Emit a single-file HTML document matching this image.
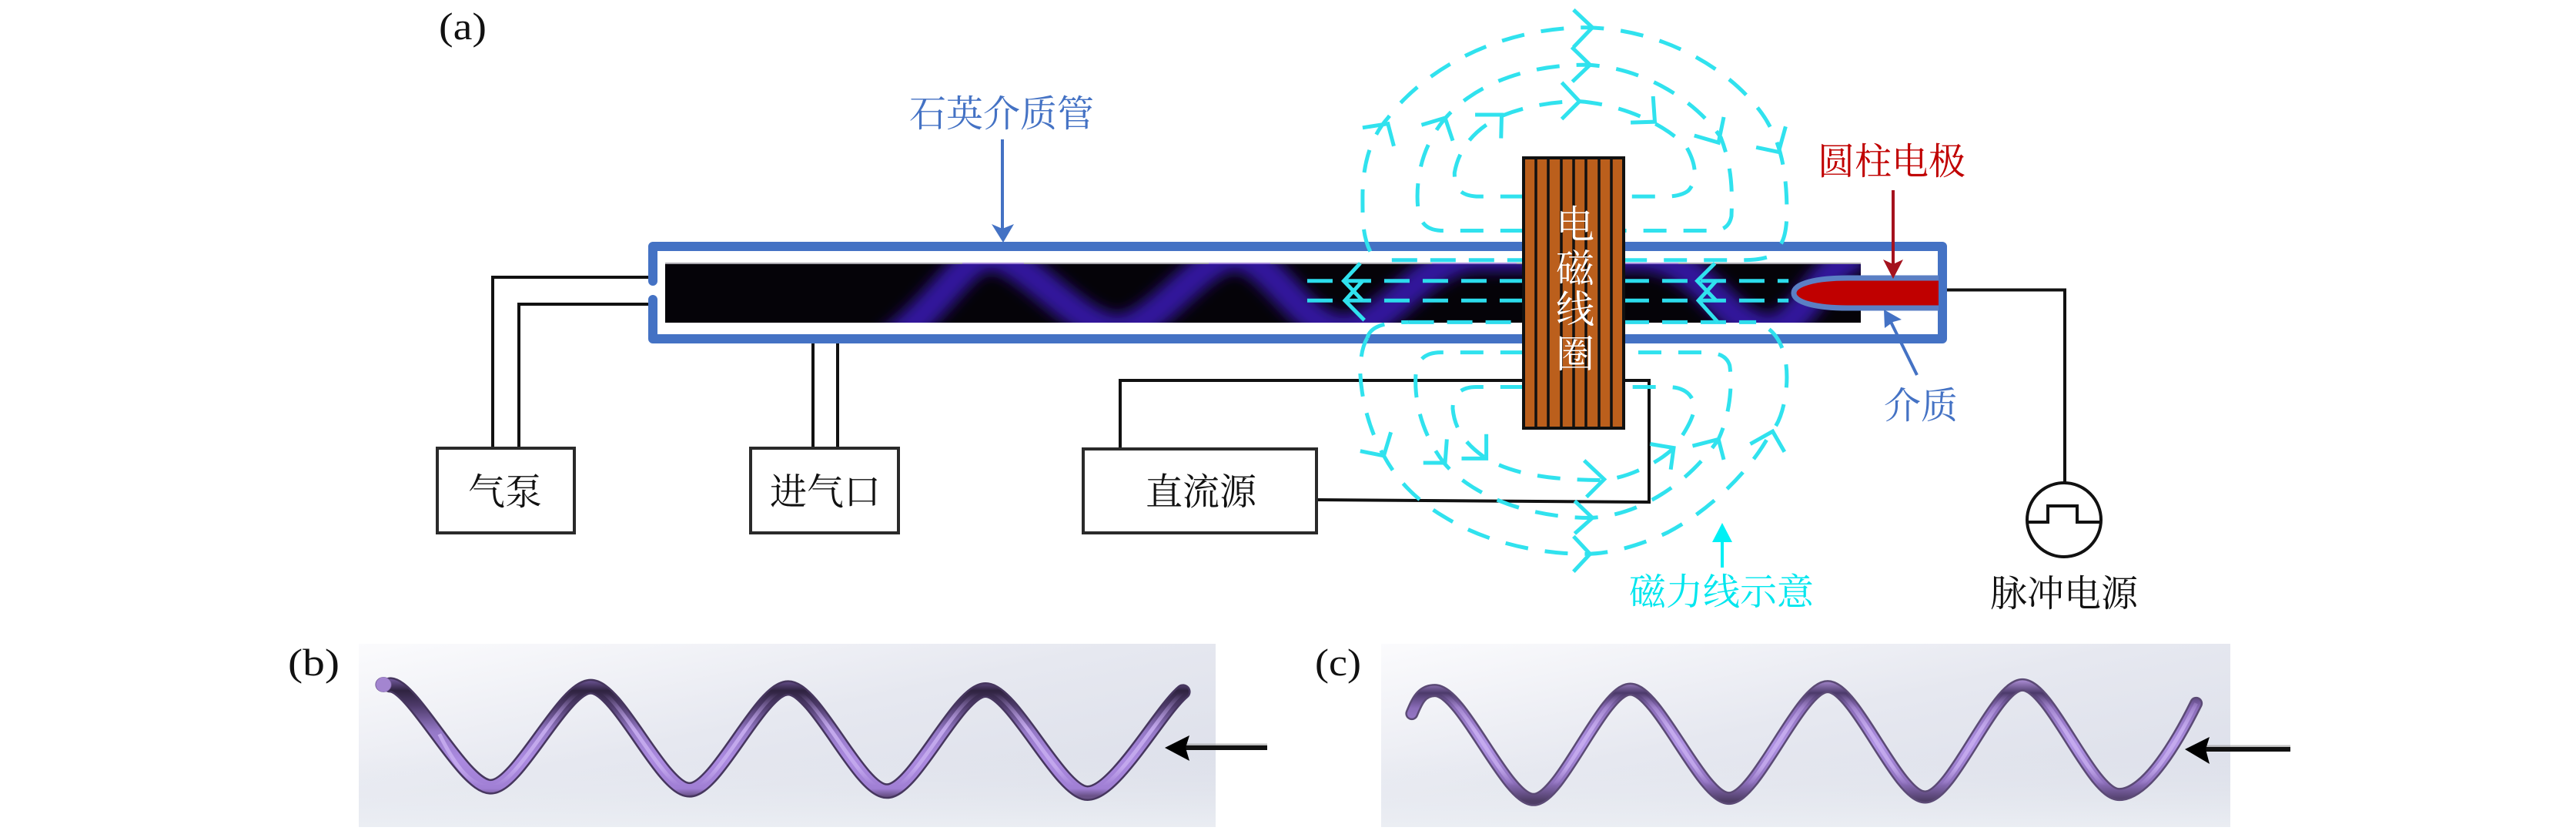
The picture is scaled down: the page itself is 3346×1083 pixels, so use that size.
<!DOCTYPE html>
<html>
<head>
<meta charset="utf-8">
<style>
html,body{margin:0;padding:0;background:#fff}
svg{display:block}
text{font-family:"Noto Serif CJK SC","Liberation Serif",serif}
.l{font-family:"Liberation Serif",serif;font-size:50px;fill:#111}
.f{fill:none;stroke:#30e2ee;stroke-width:5;vector-effect:non-scaling-stroke;stroke-dasharray:30 22}
.i{fill:none;stroke:#2cdcec;stroke-width:5;vector-effect:non-scaling-stroke;stroke-dasharray:33 17}
.h{fill:none;stroke:#30e2ee;stroke-width:5;vector-effect:non-scaling-stroke;stroke-linejoin:miter}
.w{fill:none;stroke:#111;stroke-width:4}
.b{fill:#fff;stroke:#2a2a2a;stroke-width:4}
.cjk{font-size:48px;text-anchor:middle}
.coil{font-size:50px;text-anchor:middle;fill:#fff}
.e1{fill:none;stroke:#46365e;stroke-width:20;stroke-linecap:round;vector-effect:non-scaling-stroke}
.t1{fill:none;stroke:url(#gb);stroke-width:15;stroke-linecap:round;vector-effect:non-scaling-stroke}
.t2{fill:none;stroke:url(#gh);stroke-width:5;vector-effect:non-scaling-stroke}
.e3{fill:none;stroke:#5b4a75;stroke-width:17;stroke-linecap:round;vector-effect:non-scaling-stroke}
.t3{fill:none;stroke:url(#gc);stroke-width:12;stroke-linecap:round;vector-effect:non-scaling-stroke}
</style>
</head>
<body>
<svg xmlns="http://www.w3.org/2000/svg" width="3346" height="1083" viewBox="0 0 3346 1083">
<defs>
<clipPath id="cp"><rect x="864" y="341" width="1553" height="78"/></clipPath>
<filter id="bl" x="-10%" y="-100%" width="120%" height="300%"><feGaussianBlur stdDeviation="9"/></filter>
<linearGradient id="pg" x1="0" y1="0" x2="1" y2="1">
<stop offset="0" stop-color="#fbfbfd"/><stop offset=".45" stop-color="#e6e8f0"/><stop offset="1" stop-color="#dadde8"/>
</linearGradient>
<linearGradient id="pg2" x1="0" y1="0" x2="0" y2="1">
<stop offset="0.6" stop-color="#e4e7ee" stop-opacity="0"/><stop offset="1" stop-color="#eceff4" stop-opacity=".9"/>
</linearGradient>
<linearGradient id="gb" gradientUnits="userSpaceOnUse" x1="0" y1="235" x2="0" y2="710">
<stop offset=".01" stop-color="#7a5fa8"/><stop offset=".116" stop-color="#2f2340"/><stop offset=".24" stop-color="#4d3a6a"/><stop offset=".45" stop-color="#9478c6"/><stop offset=".68" stop-color="#ab8ae0"/><stop offset=".92" stop-color="#a07fd4"/><stop offset=".98" stop-color="#6a5288"/>
</linearGradient>
<linearGradient id="gc" gradientUnits="userSpaceOnUse" x1="0" y1="235" x2="0" y2="750">
<stop offset=".03" stop-color="#a98bd2"/><stop offset=".126" stop-color="#4c3a6a"/><stop offset=".24" stop-color="#8a6cb8"/><stop offset=".515" stop-color="#b093e4"/><stop offset=".8" stop-color="#8e70bd"/><stop offset=".94" stop-color="#4e3d66"/>
</linearGradient>
<linearGradient id="gh" gradientUnits="userSpaceOnUse" x1="0" y1="300" x2="0" y2="660">
<stop offset="0" stop-color="#c8aef0" stop-opacity="0"/><stop offset=".4" stop-color="#c8aef0" stop-opacity=".9"/><stop offset=".8" stop-color="#c8aef0" stop-opacity=".8"/><stop offset="1" stop-color="#c8aef0" stop-opacity="0"/>
</linearGradient>
</defs>

<!-- wires -->
<path class="w" d="M850,360 H640 V582"/>
<path class="w" d="M850,395 H674 V582"/>
<path class="w" d="M1056,438 V582"/>
<path class="w" d="M1088,438 V582"/>
<path class="w" d="M1455,583 V494 H2142 V652 L1710,649"/>
<path class="w" d="M2518,376.5 H2682 V628"/>

<!-- boxes -->
<rect class="b" x="568" y="582" width="178" height="110"/>
<rect class="b" x="975" y="582" width="192" height="110"/>
<rect class="b" x="1407" y="583" width="303" height="109"/>

<!-- plasma -->
<rect x="864" y="341" width="1553" height="78" fill="#050308"/>
<g clip-path="url(#cp)">
<path d="M1150,450 C1230,390 1250,332 1287,332 C1330,332 1400,428 1452,428 C1500,428 1560,332 1604,332 C1650,332 1690,428 1745,428 C1800,428 1850,332 1920,332 L2130,332 C2210,332 2240,428 2300,428 C2340,428 2370,332 2420,332" fill="none" stroke="#31169c" stroke-width="40" filter="url(#bl)"/>
<path d="M1410,420 H1490 M1720,420 H1790 M2250,420 H2350" stroke="#7040f0" stroke-width="8" filter="url(#bl)" fill="none"/>
</g>
<path d="M864,342 H2417" stroke="#a8a6ad" stroke-width="2" fill="none"/>
<path d="M1250,342 H1330 M1570,342 H1650 M1860,342 H1970 M2110,342 H2180" stroke="#a07ae8" stroke-width="2" fill="none" opacity=".7"/>

<!-- tube -->
<path d="M848,365 V320 H2523 V440 H848 V389" fill="none" stroke="#4472c4" stroke-width="12" stroke-linecap="round" stroke-linejoin="round"/>

<!-- electrode -->
<path d="M2518,361 H2400 C2360,361 2330,368 2330,380.5 C2330,393 2360,400 2400,400 H2518" fill="#c00000" stroke="#5b7fc4" stroke-width="7"/>

<!-- field lines (zoom coordinates) -->
<g transform="translate(1600,0) scale(0.76531,0.51020)">
<path class="f" d="M235,640 C222,600 222,560 222,500 C222,420 235,350 265,300 C320,190 440,72 600,70 C720,72 830,160 890,270 C935,350 942,450 942,540 C942,580 938,610 930,625"/>
<path class="f" d="M908,655 C890,662 880,662 860,662 L665,662"/>
<path class="i" stroke-dashoffset="12" d="M495,662 L270,662"/>
<path class="f" d="M495,587 L355,587 C325,585 315,560 315,500 C315,440 325,370 360,305 C410,215 500,165 600,165 C700,170 790,260 830,350 C848,420 850,480 848,550 C845,575 835,587 815,587 L665,587"/>
<path class="f" d="M495,500 L415,500 C385,497 378,475 378,440 C385,380 410,330 458,295 C500,270 545,258 590,258 C650,265 720,300 770,370 C790,420 790,460 775,485 C765,497 750,500 735,500 L665,500"/>
<path class="i" d="M128,715 H495 M665,715 H945"/>
<path class="i" d="M128,765 H495 M665,765 H945"/>
<path class="f" d="M230,860 C235,830 260,820 300,820"/>
<path class="i" d="M300,820 L495,820 M665,820 L890,820"/>
<path class="f" d="M912,838 C930,860 942,900 942,960 C942,1020 930,1080 915,1100 C880,1200 810,1300 740,1355 C690,1390 640,1410 600,1410 C520,1410 430,1380 360,1315 C310,1270 280,1220 258,1160 C235,1100 220,1020 218,950 C218,910 222,880 230,860"/>
<path class="f" d="M495,897 L355,897 C325,897 313,920 312,960 C310,1040 330,1120 360,1178 C400,1250 490,1318 610,1318 C700,1310 780,1220 826,1118 C850,1040 848,960 845,930 C840,905 825,897 800,897 L665,897"/>
<path class="f" d="M495,985 L415,985 C385,985 375,1010 375,1040 C378,1090 395,1130 432,1167 C480,1210 550,1222 630,1222 C680,1215 730,1170 750,1140 C775,1090 787,1050 785,1030 C780,1000 765,985 740,985 L665,985"/>
<polyline class="h" points="580,25 612,70 580,120"/>
<polyline class="h" points="222,325 265,315 275,372"/>
<polyline class="h" points="890,375 928,387 940,322"/>
<polyline class="h" points="577,120 608,165 578,208"/>
<polyline class="h" points="322,318 362,300 375,358"/>
<polyline class="h" points="785,345 826,363 835,298"/>
<polyline class="h" points="560,210 590,258 560,303"/>
<polyline class="h" points="413,292 458,292 457,352"/>
<polyline class="h" points="677,312 718,310 715,245"/>
<polyline class="h" points="580,1365 608,1410 580,1455"/>
<polyline class="h" points="218,1148 258,1160 270,1100"/>
<polyline class="h" points="880,1130 918,1098 938,1150"/>
<polyline class="h" points="582,1275 612,1318 582,1358"/>
<polyline class="h" points="325,1178 362,1178 365,1118"/>
<polyline class="h" points="782,1135 826,1118 835,1170"/>
<polyline class="h" points="598,1172 632,1220 602,1265"/>
<polyline class="h" points="390,1167 432,1167 432,1105"/>
<polyline class="h" points="710,1130 750,1140 745,1195"/>
<polyline class="h" points="218,670 190,715 222,765"/>
<polyline class="h" points="222,715 192,765 225,815"/>
<polyline class="h" points="820,670 790,715 822,765"/>
<polyline class="h" points="822,715 792,765 825,820"/>
</g>

<!-- coil -->
<rect x="1979" y="205" width="130" height="351" fill="#bb5f1c" stroke="#111" stroke-width="4"/>
<path d="M1995,205 V556 M2011,205 V556 M2028,205 V556 M2044,205 V556 M2060,205 V556 M2077,205 V556 M2093,205 V556" stroke="#111" stroke-width="3.5" fill="none"/>
<text class="coil" x="2046" y="309">电</text>
<text class="coil" x="2046" y="366">磁</text>
<text class="coil" x="2046" y="419">线</text>
<text class="coil" x="2046" y="477">圈</text>

<!-- arrows -->
<path d="M1302,181 V300" stroke="#4472c4" stroke-width="4" fill="none"/>
<path d="M1288,291 L1302,297 L1317,291 L1303,315 Z" fill="#4472c4"/>
<path d="M2459,247 V345" stroke="#a5121e" stroke-width="4" fill="none"/>
<path d="M2446,337 L2459,343 L2472,337 L2459,362 Z" fill="#a5121e"/>
<path d="M2490,487 L2456,418" stroke="#4472c4" stroke-width="4" fill="none"/>
<path d="M2447,402 L2470,415 L2459,418 L2448,426 Z" fill="#4472c4"/>
<path d="M2237,737 V695" stroke="#00f0f5" stroke-width="4" fill="none"/>
<path d="M2237,679 L2250,704 L2224,704 Z" fill="#00f0f5"/>

<!-- pulse source -->
<circle cx="2681" cy="675" r="48" fill="#fff" stroke="#111" stroke-width="4"/>
<path d="M2633,678 H2660 V657 H2698 V678 H2729" fill="none" stroke="#111" stroke-width="4"/>

<!-- labels -->
<text class="l" x="570" y="51" textLength="62" lengthAdjust="spacingAndGlyphs">(a)</text>
<text class="l" x="374" y="877" textLength="67" lengthAdjust="spacingAndGlyphs">(b)</text>
<text class="l" x="1708" y="877" textLength="60" lengthAdjust="spacingAndGlyphs">(c)</text>
<text class="cjk" x="1301" y="164" fill="#4472c4">石英介质管</text>
<text class="cjk" x="2457" y="226" fill="#c00000">圆柱电极</text>
<text class="cjk" x="2495" y="543" fill="#4472c4">介质</text>
<text class="cjk" x="2236" y="785" fill="#00e6ee">磁力线示意</text>
<text class="cjk" x="2681" y="787" fill="#111">脉冲电源</text>
<text class="cjk" x="656" y="655" fill="#111">气泵</text>
<text class="cjk" x="1072" y="655" fill="#111">进气口</text>
<text class="cjk" x="1560" y="655" fill="#111">直流源</text>

<!-- panel b -->
<rect x="466" y="836" width="1113" height="238" fill="url(#pg)"/>
<rect x="466" y="836" width="1113" height="238" fill="url(#pg2)"/>
<g transform="translate(340,800) scale(0.8547,0.3333)">
<path class="e1" d="M195,268 C230,268 306,665 348,665 C390,665 458,275 500,275 C542,275 608,677 650,677 C692,677 758,280 800,280 C842,280 908,682 950,682 C992,682 1058,288 1100,288 C1142,288 1213,690 1255,690 C1297,690 1365,370 1400,295"/>
<path class="t1" d="M195,268 C230,268 306,665 348,665 C390,665 458,275 500,275 C542,275 608,677 650,677 C692,677 758,280 800,280 C842,280 908,682 950,682 C992,682 1058,288 1100,288 C1142,288 1213,690 1255,690 C1297,690 1365,370 1400,295"/>
<path class="t2" d="M270,460 C295,590 318,665 348,665 C390,665 458,275 500,275 C542,275 608,677 650,677 C692,677 758,280 800,280 C842,280 908,682 950,682 C992,682 1058,288 1100,288 C1142,288 1213,690 1255,690 C1297,690 1365,370 1400,295"/>
<ellipse cx="185" cy="267" rx="12" ry="29" fill="#a385d0" stroke="#6c5490" stroke-width="1"/>
</g>
<path d="M1646,967 H1540" stroke="#999" stroke-width="3" fill="none" opacity=".6"/>
<path d="M1646,971 H1540" stroke="#111" stroke-width="6" fill="none"/>
<path d="M1513,971 L1545,955 L1540,971 L1545,988 Z" fill="#000"/>

<!-- panel c -->
<rect x="1794" y="836" width="1103" height="238" fill="url(#pg)"/>
<rect x="1794" y="836" width="1103" height="238" fill="url(#pg2)"/>
<g transform="translate(1680,800) scale(0.8547,0.3333)">
<path class="e3" d="M180,380 C188,330 195,290 215,290 C257,290 323,715 365,715 C407,715 470,285 512,285 C554,285 620,710 662,710 C704,710 770,275 812,275 C854,275 918,705 960,705 C1002,705 1066,268 1108,268 C1150,268 1213,695 1255,695 C1297,695 1345,480 1372,340"/>
<path class="t3" d="M180,380 C188,330 195,290 215,290 C257,290 323,715 365,715 C407,715 470,285 512,285 C554,285 620,710 662,710 C704,710 770,275 812,275 C854,275 918,705 960,705 C1002,705 1066,268 1108,268 C1150,268 1213,695 1255,695 C1297,695 1345,480 1372,340"/>
<path class="t2" d="M215,290 C257,290 323,715 365,715 C407,715 470,285 512,285 C554,285 620,710 662,710 C704,710 770,275 812,275 C854,275 918,705 960,705 C1002,705 1066,268 1108,268 C1150,268 1213,695 1255,695 C1297,695 1345,480 1372,340"/>
</g>
<path d="M2975,969 H2865" stroke="#999" stroke-width="3" fill="none" opacity=".6"/>
<path d="M2975,973 H2865" stroke="#111" stroke-width="6" fill="none"/>
<path d="M2838,973 L2870,957 L2865,973 L2870,992 Z" fill="#000"/>
</svg>
</body>
</html>
